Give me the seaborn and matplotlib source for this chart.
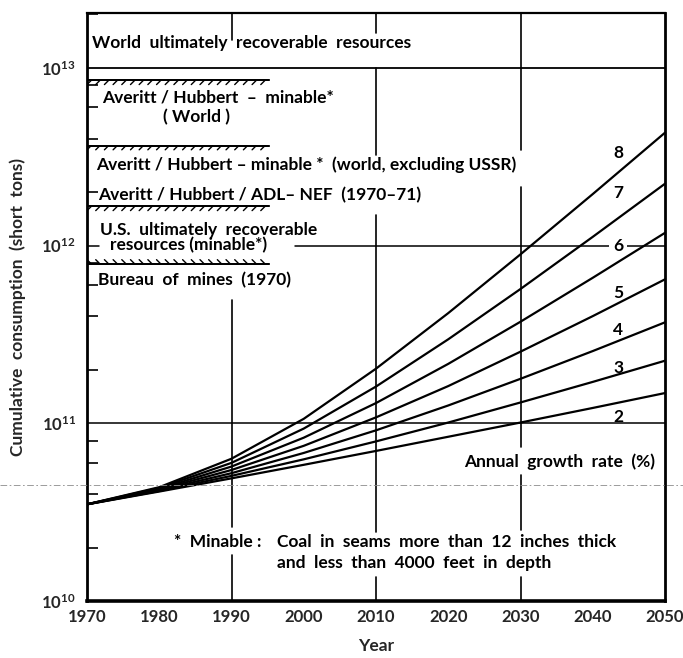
import matplotlib
matplotlib.use("Agg")
import matplotlib.pyplot as plt
import matplotlib.patheffects as pe
from matplotlib.lines import Line2D
from matplotlib.ticker import LogLocator, NullFormatter, FixedLocator
import numpy as np
import pandas as pd
import seaborn as sns

# ---------------- data ----------------
years = [1970, 1980, 1990, 2000, 2010, 2020, 2030, 2040, 2050]
rates = [2, 3, 4, 5, 6, 7, 8]
# cumulative consumption, units of 1e10 short tons
growth_2 = [3.50, 4.13, 4.90, 5.84, 6.99, 8.40, 10.1, 12.2, 14.8]
growth_3 = [3.50, 4.16, 5.06, 6.27, 7.91, 10.1, 13.1, 17.1, 22.5]
growth_4 = [3.50, 4.20, 5.24, 6.81, 9.13, 12.6, 17.8, 25.5, 37.0]
growth_5 = [3.50, 4.24, 5.46, 7.47, 10.8, 16.2, 25.3, 40.1, 64.6]
growth_6 = [3.50, 4.28, 5.71, 8.30, 13.0, 21.6, 37.3, 65.9, 118.0]
growth_7 = [3.50, 4.33, 5.99, 9.34, 16.1, 29.7, 57.0, 112.0, 223.0]
growth_8 = [3.50, 4.37, 6.32, 10.6, 20.3, 41.7, 89.3, 195.0, 432.0]
series = [growth_2, growth_3, growth_4, growth_5, growth_6, growth_7, growth_8]

# resource estimates (short tons)
world_urr = 1.0e13
hatched_values = [8.5e12, 3.65e12, 1.66e12, 7.9e11]
hatched_end_year = 1995.2
x_ticks = [1970, 1980, 1990, 2000, 2010, 2020, 2030, 2040, 2050]
y_major = [1e10, 1e11, 1e12, 1e13]
y_major_labels = [r"$10^{10}$", r"$10^{11}$", r"$10^{12}$", r"$10^{13}$"]

rows = []
for r, vals in zip(rates, series):
    for y, v in zip(years, vals):
        rows.append({"year": y, "value": v * 1e10, "rate": str(r)})
df = pd.DataFrame(rows)

# ---------------- figure ----------------
sns.set_theme(style="white")
plt.rcParams["font.family"] = ["Lato", "DejaVu Sans"]
plt.rcParams["font.weight"] = "bold"
plt.rcParams["mathtext.fontset"] = "custom"
plt.rcParams["mathtext.rm"] = "Lato:bold"
plt.rcParams["mathtext.it"] = "Lato:bold"

W, H = 683, 658
fig = plt.figure(figsize=(W / 100, H / 100), dpi=100)
L, R, T, B = 87, 665, 13, 601
ax = fig.add_axes([L / W, 1 - B / H, (R - L) / W, (B - T) / H])

ax.set_yscale("log")
ax.set_xlim(1970, 2050)
ax.set_ylim(1e10, 10 ** 13.309)

sns.lineplot(data=df, x="year", y="value", hue="rate",
             palette=["black"] * len(rates), linewidth=1.6,
             legend=False, ax=ax, zorder=4)

# gridlines
ax.axhline(world_urr, color="black", lw=1.3, zorder=2)
ax.axhline(1e12, xmin=0.0, xmax=0.02, color="black", lw=1.1, zorder=2)
ax.axhline(1e12, xmin=0.36, xmax=1.0, color="black", lw=1.1, zorder=2)
ax.axhline(1e11, color="black", lw=1.1, zorder=2)

# vertical partial gridlines (axes fraction segments)
vsegs = {
    1990: [(0.954, 1.0), (0.126, 0.512), (0.0, 0.078)],
    2010: [(0.966, 1.0), (0.758, 0.906), (0.117, 0.656), (0.0, 0.041)],
    2030: [(0.767, 1.0), (0.262, 0.704), (0.121, 0.214), (0.0, 0.041)],
}
for xv, segs in vsegs.items():
    for a, b in segs:
        ax.axvline(xv, ymin=a, ymax=b, color="black", lw=1.2, zorder=2)

# hatched resource lines
for i, v in enumerate(hatched_values):
    ang = 135 if i == len(hatched_values) - 1 else -135
    ax.plot([1970, hatched_end_year], [v, v], color="black", lw=1.3, zorder=3,
            path_effects=[pe.withTickedStroke(spacing=6, angle=ang, length=0.7,
                                              linewidth=1.0),
                          pe.Normal()])

# ---------------- texts ----------------
fs = 12.5
tk = dict(fontsize=fs, fontweight="bold", color="black", va="center", zorder=3)
ax.text(1970.7, 1.38e13, "World  ultimately  recoverable  resources", ha="left", **tk)
ax.text(1972.1, 6.78e12, "Averitt / Hubbert  –  minable*", ha="left", **tk)
ax.text(1985.2, 5.3e12, "( World )", ha="center", **tk)
ax.text(1971.2, 2.84e12, "Averitt / Hubbert – minable *  (world, excluding USSR)", ha="left", **tk)
ax.text(1971.5, 1.93e12, "Averitt / Hubbert / ADL– NEF  (1970–71)", ha="left", **tk)
ax.text(1971.8, 1.22e12, "U.S.  ultimately  recoverable", ha="left", **tk)
ax.text(1973.2, 1.0e12, "resources (minable*)", ha="left", **tk)
ax.text(1971.5, 6.4e11, "Bureau  of  mines  (1970)", ha="left", **tk)

label_y = [1.08e11, 2.05e11, 3.35e11, 5.4e11, 1.0e12, 1.98e12, 3.32e12]
for r, yv in zip(rates, label_y):
    bb = dict(boxstyle="square,pad=0.25", fc="white", ec="none") if r == 6 else None
    ax.text(2043.5, yv, str(r), ha="center", bbox=bb, **tk)

ax.text(2048.6, 6.05e10, "Annual  growth  rate  (%)", ha="right", **tk)
ax.text(1982.1, 2.15e10, "*  Minable :", ha="left", **tk)
ax.text(1996.3, 2.15e10, "Coal  in  seams  more  than  12  inches  thick", ha="left", **tk)
ax.text(1996.3, 1.64e10, "and  less  than  4000  feet  in  depth", ha="left", **tk)

# ---------------- axes styling ----------------
ax.set_xticks(x_ticks)
ax.set_xticklabels([str(x) for x in x_ticks])
ax.xaxis.set_minor_locator(FixedLocator([1980, 2000, 2020, 2040]))
ax.tick_params(axis="x", which="major", length=0, pad=6, labelsize=12)
ax.tick_params(axis="x", which="minor", direction="in", length=8, width=1.2,
               color="black", bottom=True)

ax.yaxis.set_major_locator(FixedLocator(y_major))
ax.set_yticklabels(y_major_labels)
ax.yaxis.set_minor_locator(LogLocator(base=10, subs=[2, 4, 6, 8]))
ax.yaxis.set_minor_formatter(NullFormatter())
ax.tick_params(axis="y", which="major", length=0, pad=8, labelsize=12)
ax.tick_params(axis="y", which="minor", direction="in", length=8, width=1.2,
               color="black", left=True)

for side, lw in zip(["left", "right", "top", "bottom"], [2.0, 2.0, 1.6, 2.6]):
    ax.spines[side].set_visible(True)
    ax.spines[side].set_color("black")
    ax.spines[side].set_linewidth(lw)

ax.set_xlabel("Year", fontsize=fs, fontweight="bold")
ax.set_ylabel("Cumulative  consumption  (short  tons)", fontsize=fs, fontweight="bold")
ax.xaxis.set_label_coords(0.5, -0.063)
ax.yaxis.set_label_coords(-0.105, 0.5)

# faint fold line from the scanned original
fig.add_artist(Line2D([0, 1], [1 - 485 / H, 1 - 485 / H], transform=fig.transFigure,
                      color="0.55", lw=0.6, ls=(0, (8, 3, 2, 3)), zorder=1))

fig.savefig("out.png", dpi=100)
